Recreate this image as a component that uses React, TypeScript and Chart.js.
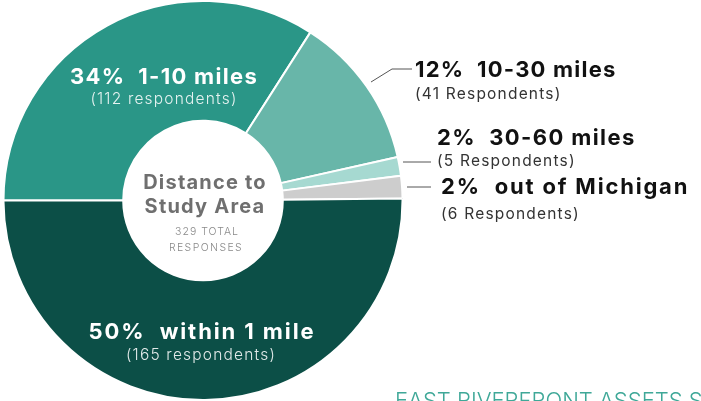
import { useEffect, useRef } from "react";
import { Chart, registerables } from "chart.js";

Chart.register(...registerables);

// ---- data ----
const categories = ["1-10 miles", "10-30 miles", "30-60 miles", "out of Michigan", "within 1 mile"];
const respondents = [112, 41, 5, 6, 165];
const percentLabels = ["34%", "12%", "2%", "2%", "50%"];
const respondentLabels = [
  "(112 respondents)",
  "(41 Respondents)",
  "(5 Respondents)",
  "(6 Respondents)",
  "(165 respondents)",
];
const sliceColors = ["#2a9687", "#68b6a9", "#a6d9d1", "#cdcdcd", "#0c4f47"];
const centerTitle = ["Distance to", "Study Area"];
const centerSub = ["329 TOTAL", "RESPONSES"];
const footerText = "EAST RIVERFRONT ASSETS STUDY";

const FONT = "Inter, 'Open Sans', sans-serif";

function setSpacing(ctx: any, px: number) {
  if ("letterSpacing" in ctx) ctx.letterSpacing = `${px}px`;
}

const labelPlugin = {
  id: "infographicLabels",
  afterDraw(chart: any) {
    const ctx = chart.ctx as CanvasRenderingContext2D;
    ctx.save();
    ctx.textBaseline = "alphabetic";

    // inside labels (white)
    ctx.fillStyle = "#ffffff";
    ctx.textAlign = "center";
    ctx.font = `700 22px ${FONT}`;
    setSpacing(ctx, 1.3);
    ctx.fillText(`${percentLabels[0]}  ${categories[0]}`, 164, 84);
    setSpacing(ctx, 1.9);
    ctx.fillText(`${percentLabels[4]}  ${categories[4]}`, 202, 339);
    ctx.fillStyle = "rgba(255,255,255,0.88)";
    ctx.font = `300 15.5px ${FONT}`;
    setSpacing(ctx, 1.2);
    ctx.fillText(respondentLabels[0], 164, 104);
    ctx.fillText(respondentLabels[4], 201, 360);

    // center
    ctx.fillStyle = "#6f6f6f";
    ctx.font = `700 20px ${FONT}`;
    setSpacing(ctx, 1.2);
    ctx.fillText(centerTitle[0], 205, 189);
    ctx.fillText(centerTitle[1], 205, 213);
    ctx.fillStyle = "#8a8a8a";
    ctx.font = `300 10.5px ${FONT}`;
    setSpacing(ctx, 1);
    ctx.fillText(centerSub[0], 207, 235);
    setSpacing(ctx, 1.4);
    ctx.fillText(centerSub[1], 206, 251);

    // outside labels
    ctx.textAlign = "left";
    const outside = [
      { i: 1, x: 415, y: 77, sub: 99, sp: 1.2 },
      { i: 2, x: 437, y: 145, sub: 166, sp: 1.4 },
      { i: 3, x: 441, y: 194, sub: 219, sp: 1.8 },
    ];
    outside.forEach((o) => {
      ctx.fillStyle = "#111111";
      ctx.font = `700 22px ${FONT}`;
      setSpacing(ctx, o.sp);
      ctx.fillText(`${percentLabels[o.i]}  ${categories[o.i]}`, o.x, o.y);
      ctx.fillStyle = "#333333";
      ctx.font = `400 15.5px ${FONT}`;
      setSpacing(ctx, 1.2);
      ctx.fillText(respondentLabels[o.i], o.x, o.sub);
    });

    // leader lines
    ctx.strokeStyle = "#555555";
    ctx.lineWidth = 1;
    ctx.beginPath();
    ctx.moveTo(371, 82);
    ctx.lineTo(392, 69);
    ctx.lineTo(412, 69);
    ctx.moveTo(403, 162);
    ctx.lineTo(431, 162);
    ctx.moveTo(407, 187);
    ctx.lineTo(431, 187);
    ctx.stroke();

    // footer
    ctx.fillStyle = "#3fa898";
    ctx.font = `300 22px ${FONT}`;
    setSpacing(ctx, 0);
    ctx.fillText(footerText, 395, 408);

    ctx.restore();
  },
};

export default function App() {
  const ref = useRef<HTMLCanvasElement | null>(null);

  useEffect(() => {
    document.body.style.margin = "0";
    const canvas = ref.current;
    if (!canvas) return;
    const chart = new Chart(canvas, {
      type: "doughnut",
      data: {
        labels: categories,
        datasets: [
          {
            data: respondents,
            backgroundColor: sliceColors,
            borderColor: "#ffffff",
            borderWidth: 2,
          },
        ],
      },
      options: {
        responsive: false,
        animation: false,
        rotation: 270,
        cutout: "40%",
        layout: { padding: { left: 0, top: 0, right: 295, bottom: 0 } },
        plugins: {
          legend: { display: false },
          tooltip: { enabled: false },
        },
      },
      plugins: [labelPlugin],
    });
    return () => chart.destroy();
  }, []);

  return (
    <div style={{ width: 701, height: 401, background: "#ffffff", overflow: "hidden" }}>
      <canvas ref={ref} width={701} height={401} style={{ display: "block" }} />
    </div>
  );
}
